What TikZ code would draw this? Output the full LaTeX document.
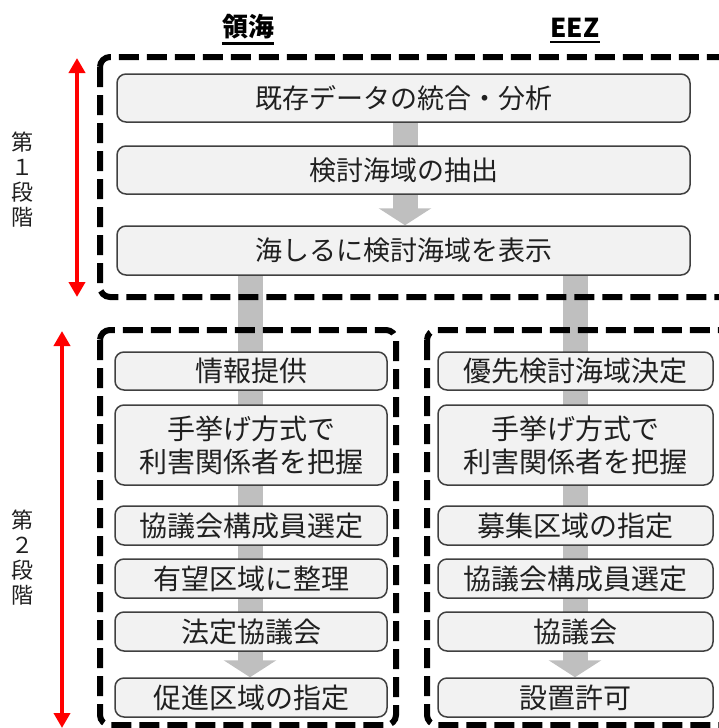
\documentclass[tikz,border=0pt]{standalone}
\usepackage{fontspec}
\setmainfont{Noto Sans CJK JP}
\usetikzlibrary{arrows.meta,calc}
\pgfdeclarelayer{bg}
\pgfsetlayers{bg,main}
\definecolor{boxfill}{HTML}{F2F2F2}
\definecolor{boxline}{HTML}{404040}
\definecolor{txt}{HTML}{202020}
\definecolor{garrowc}{HTML}{BFBFBF}
\begin{document}
\begin{tikzpicture}[x=1pt,y=-1pt,
 box/.style={draw=boxline, line width=1.5pt, fill=boxfill, rounded corners=9pt, text=txt,
   font=\fontsize{28pt}{33pt}\selectfont, align=center, inner sep=0pt},
 frame/.style={draw=black, line width=6pt, dash pattern=on 20pt off 8pt, rounded corners=10pt},
 flow/.style={draw=garrowc, line width=25pt, -{Triangle[width=52pt,length=17pt]}},
 stage/.style={red, line width=4pt, {Triangle[width=16pt,length=15pt]}-{Triangle[width=16pt,length=15pt]}},
 vlabel/.style={text=txt, font=\fontsize{22pt}{25pt}\selectfont, align=center, inner sep=0pt},
 head/.style={text=black, font=\bfseries\fontsize{26pt}{30pt}\selectfont, inner sep=0pt},
 wide/.style={minimum width=573pt, font=\fontsize{27pt}{33pt}\selectfont},
 lcol/.style={minimum width=272pt},
 rcol/.style={minimum width=275pt}]
\useasboundingbox (0,0) rectangle (719,728);
\clip (0,0) rectangle (719,728);

% headers
\node[head] (hL) at (248,27) {領海};
\node[head] (hR) at (575,28) {EEZ};
\draw[line width=2.5pt] ($(hL.south west)+(0,4)$) -- ($(hL.south east)+(0,4)$);
\draw[line width=2.5pt] ($(hR.south west)+(0,4)$) -- ($(hR.south east)+(0,4)$);

% stage 1 boxes
\node[box, wide, minimum height=48pt] (s1a) at (403.5,98) {既存データの統合・分析};
\node[box, wide, minimum height=48pt] (s1b) at (403.5,170) {検討海域の抽出};
\node[box, wide, minimum height=49pt] (s1c) at (403.5,250.5) {海しるに検討海域を表示};

% stage 2 left
\node[box, lcol, minimum height=38pt] (L1) at (251,371) {情報提供};
\node[box, lcol, minimum height=80pt] (L2) at (251,445) {手挙げ方式で\\利害関係者を把握};
\node[box, lcol, minimum height=39pt] (L3) at (251,525.5) {協議会構成員選定};
\node[box, lcol, minimum height=39pt] (L4) at (251,578.5) {有望区域に整理};
\node[box, lcol, minimum height=39pt] (L5) at (251,631.5) {法定協議会};
\node[box, lcol, minimum height=39pt] (L6) at (251,697.5) {促進区域の指定};

% stage 2 right
\node[box, rcol, minimum height=38pt] (R1) at (575.5,371) {優先検討海域決定};
\node[box, rcol, minimum height=80pt] (R2) at (575.5,445) {手挙げ方式で\\利害関係者を把握};
\node[box, rcol, minimum height=39pt] (R3) at (575.5,525.5) {募集区域の指定};
\node[box, rcol, minimum height=39pt] (R4) at (575.5,578.5) {協議会構成員選定};
\node[box, rcol, minimum height=39pt] (R5) at (575.5,631.5) {協議会};
\node[box, rcol, minimum height=39pt] (R6) at (575.5,697.5) {設置許可};

% flow arrows behind
\coordinate (c1) at (405,0);
\coordinate (cL) at (250,0);
\coordinate (cR) at (575,0);
\begin{pgfonlayer}{bg}
\draw[flow] (s1a.south -| c1) -- (s1c.north -| c1);
\draw[flow] (s1c.south -| cL) -- (L6.north -| cL);
\draw[flow] (s1c.south -| cR) -- (R6.north -| cR);
\end{pgfonlayer}

% dashed frames
\draw[frame] (100,57) rectangle (745,297);
\draw[frame] (100,330) rectangle (396,725);
\draw[frame] (427,330) rectangle (745,725);

% stage arrows
\coordinate (r1t) at (77,58);
\coordinate (r1b) at (77,297);
\coordinate (r2t) at (62,331);
\coordinate (r2b) at (62,728);
\draw[stage] (r1t) -- (r1b);
\draw[stage] (r2t) -- (r2b);

% stage labels
\node[vlabel] (lab1) at (23,180) {第\\１\\段\\階};
\node[vlabel] (lab2) at (23,558) {第\\２\\段\\階};
\end{tikzpicture}
\end{document}
